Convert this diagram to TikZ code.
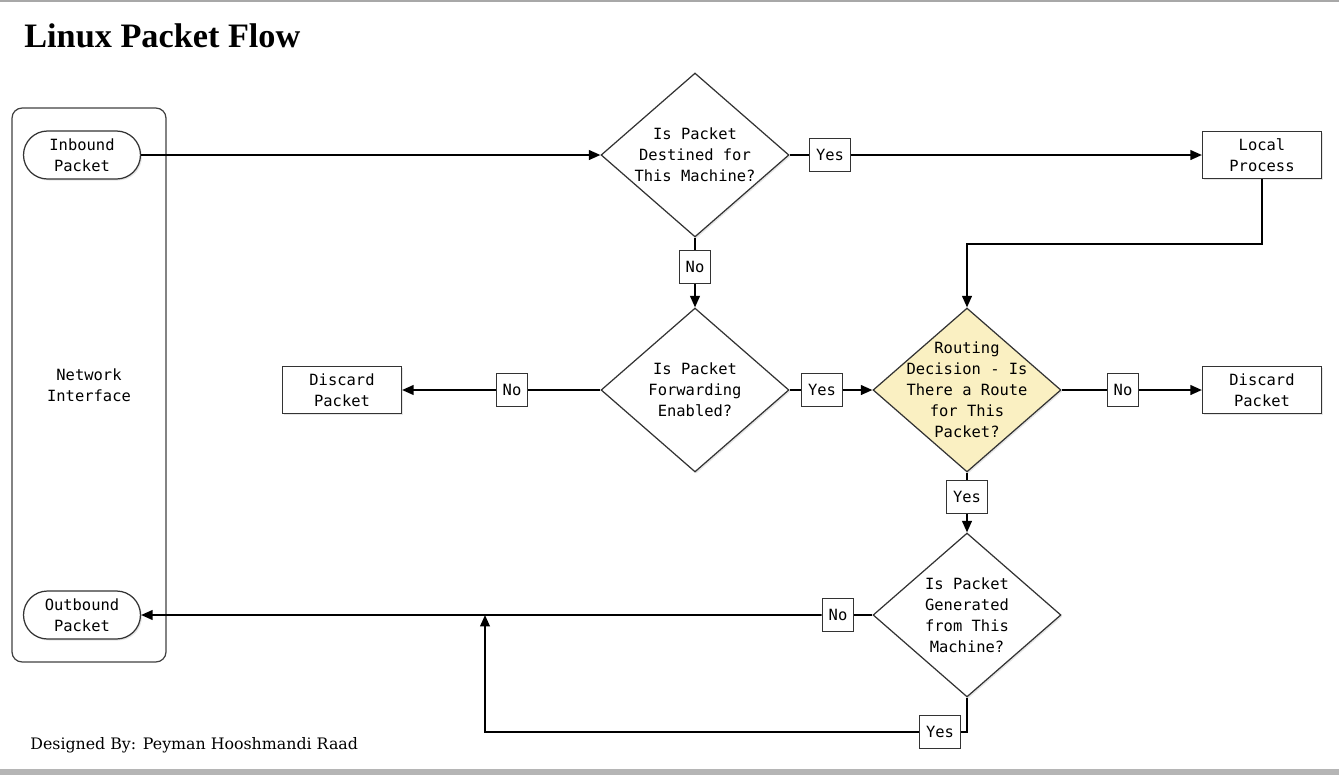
\documentclass[tikz,border=0pt]{standalone}
\usepackage{fontspec}
\setmainfont{Liberation Serif}
\setmonofont{DejaVu Sans Mono}
\newfontfamily\creditfont{DejaVu Serif}
\usetikzlibrary{shapes.geometric, shapes.misc, arrows.meta, shadows}
\definecolor{routefill}{HTML}{FAF0C2}
\definecolor{edgegray}{HTML}{A8A8A8}
\begin{document}
\begin{tikzpicture}
	[
	x = 0.02cm, y = -0.02cm,
	txt/.style={font = \ttfamily\fontsize{8.8}{11.9}\selectfont, align = center},
	shade/.style={drop shadow={opacity = 0.2, shadow xshift = 0.03cm, shadow yshift = -0.03cm}},
	frame/.style={draw = black!75, line width = 0.7pt, rounded corners = 0.2cm, minimum width = 3.08cm, minimum height = 11.08cm, txt},
	term/.style={draw = black!80, line width = 0.7pt, shape = rounded rectangle, fill = white, shade, minimum width = 2.34cm, minimum height = 0.96cm, inner sep = 0pt, txt},
	proc/.style={draw = black!80, line width = 0.7pt, shape = rectangle, fill = white, shade, minimum width = 2.38cm, minimum height = 0.94cm, inner sep = 0pt, txt},
	decision/.style={draw = black!80, line width = 0.7pt, shape = diamond, fill = white, shade, minimum width = 3.76cm, minimum height = 3.28cm, inner sep = 0pt},
	lbl/.style={draw = black!80, line width = 0.7pt, shape = rectangle, fill = white, minimum height = 0.66cm, inner xsep = 3.7pt, inner ysep = 0pt, txt},
	flow/.style={line width = 1pt, -{Triangle[length = 6.5pt, width = 5.5pt]}},
	link/.style={line width = 1pt}
	]
	\useasboundingbox (0,0) rectangle (1339,775);
	
	% Screen edges
	\fill[edgegray] (0,0) rectangle (1339,2);
	\fill[edgegray!85] (0,769) rectangle (1339,775);
	
	% Title and credit
	\node[anchor = base west, inner sep = 0pt, font = \bfseries\fontsize{19.5}{22}\selectfont](title) at (24,47){Linux Packet Flow};
	\node[anchor = base west, inner sep = 0pt, font = \creditfont\fontsize{9}{11}\selectfont](credit) at (30,749){Designed By: Peyman Hooshmandi Raad};
	
	% Network interface column
	\node[frame](nic) at (89,385){Network\\Interface};
	\node[term](inbound) at (82,155){Inbound\\Packet};
	\node[term](outbound) at (82,615){Outbound\\Packet};
	
	% Decisions
	\node[decision, label={[txt]center:{Is Packet\\Destined for\\This Machine?}}](dest) at (695,155){};
	\node[decision, label={[txt]center:{Is Packet\\Forwarding\\Enabled?}}](fwd) at (695,390){};
	\node[decision, fill = routefill, label={[txt]center:{Routing\\Decision - Is\\There a Route\\for This\\Packet?}}](route) at (967,390){};
	\node[decision, label={[txt]center:{Is Packet\\Generated\\from This\\Machine?}}](gen) at (967,615){};
	
	% Processes
	\node[proc](local) at (1262,155){Local\\Process};
	\node[proc](discardL) at (342,390){Discard\\Packet};
	\node[proc](discardR) at (1262,390){Discard\\Packet};
	
	% Answers
	\node[lbl](yes1) at (830,155){Yes};
	\node[lbl](no1) at (695,267){No};
	\node[lbl](no2) at (512,390){No};
	\node[lbl](yes2) at (822,390){Yes};
	\node[lbl](no3) at (1123,390){No};
	\node[lbl](yes3) at (967,497){Yes};
	\node[lbl](no4) at (838,615){No};
	\node[lbl](yes4) at (940,732){Yes};
	
	\coordinate (bend) at (967,244);
	\coordinate (merge) at (485,615);
	
	\draw[flow] (inbound) -- (dest);
	
	\draw[link] (dest) -- (yes1);
	\draw[flow] (yes1) -- (local);
	\draw[link] (dest) -- (no1);
	\draw[flow] (no1) -- (fwd);
	
	\draw[flow] (local) |- (bend) -- (route);
	
	\draw[link] (fwd) -- (no2);
	\draw[flow] (no2) -- (discardL);
	\draw[link] (fwd) -- (yes2);
	\draw[flow] (yes2) -- (route);
	
	\draw[link] (route) -- (no3);
	\draw[flow] (no3) -- (discardR);
	\draw[link] (route) -- (yes3);
	\draw[flow] (yes3) -- (gen);
	
	\draw[link] (gen) -- (no4);
	\draw[flow] (no4) -- (outbound);
	\draw[link] (gen) |- (yes4);
	\draw[flow] (yes4) -| (merge);
\end{tikzpicture}
\end{document}
